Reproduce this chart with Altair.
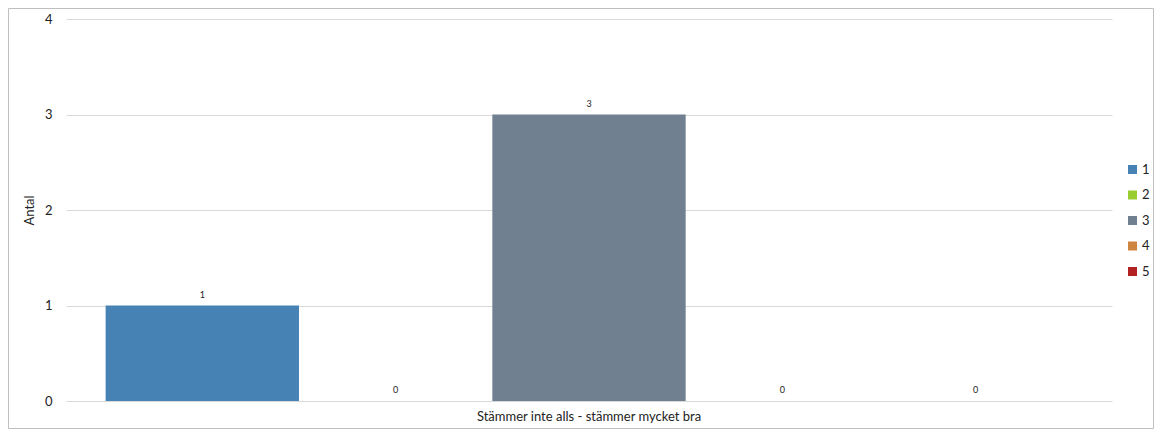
import altair as alt
import pandas as pd

categories = ["Stämmer inte alls - stämmer mycket bra"]
series = ["1", "2", "3", "4", "5"]
values = [1, 0, 3, 0, 0]
colors = ["#4682B4", "#9ACD32", "#708090", "#CD853F", "#B22222"]
y_ticks = [0, 1, 2, 3, 4]

df = pd.DataFrame({
    "kategori": [categories[0]] * len(series),
    "serie": series,
    "antal": values,
})

W, H = 1046, 382
FONT = "Lato"

base = alt.Chart(df).encode(
    x=alt.X("kategori:N",
            scale=alt.Scale(paddingInner=0, paddingOuter=0.041),
            axis=alt.Axis(title=None, labelAngle=0, ticks=False, domain=False, grid=False,
                          labelLimit=0, labelPadding=9, labelFontSize=13, labelColor="#222222",
                          labelFont=FONT)),
    xOffset=alt.XOffset("serie:N", scale=alt.Scale(domain=series, paddingInner=0)),
)

bars = base.mark_bar().encode(
    y=alt.Y("antal:Q",
            scale=alt.Scale(domain=[0, 4]),
            axis=alt.Axis(title="Antal", values=y_ticks, ticks=False, domain=False,
                          labelPadding=14, labelFontSize=13, labelColor="#222222",
                          titleFontSize=13, titleFontWeight="normal", titleColor="#222222",
                          titlePadding=8, gridColor="#D9D9D9", labelFont=FONT, titleFont=FONT,
                          format="d")),
    color=alt.Color("serie:N",
                    scale=alt.Scale(domain=series, range=colors),
                    legend=alt.Legend(title=None, orient="none", legendX=1060, legendY=144,
                                      symbolType="square", symbolSize=81, symbolStrokeWidth=0,
                                      labelFontSize=13, labelFont=FONT, labelColor="#222222",
                                      rowPadding=11.5, labelOffset=3)),
)

labels = base.mark_text(dy=-11, fontSize=9, font=FONT, color="#222222", baseline="middle").encode(
    y=alt.Y("antal:Q"),
    text=alt.Text("antal:Q", format="d"),
)

border = alt.Chart(pd.DataFrame({"b": [0]})).mark_rect(
    fillOpacity=0, stroke="#BFBFBF", strokeWidth=1
).encode(
    x=alt.value(-57.5), x2=alt.value(1087.5),
    y=alt.value(-10.5), y2=alt.value(409.5),
)

chart = alt.layer(bars, labels, border).properties(
    width=W, height=H,
    background="white",
    autosize=alt.AutoSizeParams(type="none"),
    padding={"left": 58, "top": 11, "right": 42, "bottom": 28},
).configure_view(stroke="transparent", strokeWidth=0)

chart.save("out.html", embed_options={"renderer": "svg", "actions": False})
